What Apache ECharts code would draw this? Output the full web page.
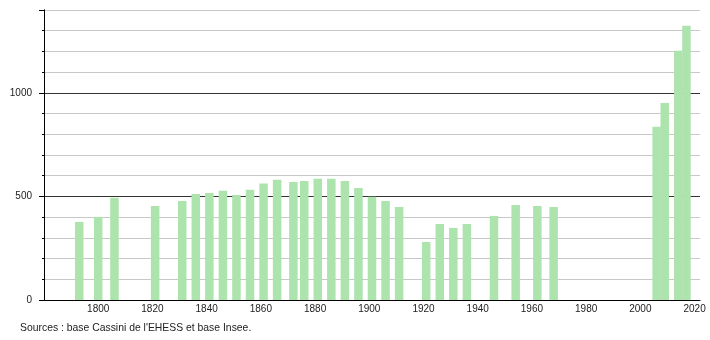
<!DOCTYPE html>
<html>
<head>
<meta charset="utf-8">
<script src="https://cdn.jsdelivr.net/npm/echarts@6/dist/echarts.min.js"></script>
<style>
html,body{margin:0;padding:0;background:#fff;}
#chart{width:710px;height:340px;}
</style>
</head>
<body>
<div id="chart"></div>
<script>
var years = [1793, 1800, 1806, 1821, 1831, 1836, 1841, 1846, 1851, 1856, 1861, 1866, 1872, 1876, 1881, 1886, 1891, 1896, 1901, 1906, 1911, 1921, 1926, 1931, 1936, 1946, 1954, 1962, 1968, 2006, 2009, 2014, 2017];
var population = [377, 401, 494, 454, 478, 512, 517, 527, 507, 532, 562, 580, 570, 575, 585, 585, 575, 541, 498, 478, 449, 280, 367, 348, 367, 406, 459, 454, 449, 836, 951, 1203, 1324];
var xTickLabels = [1800, 1820, 1840, 1860, 1880, 1900, 1920, 1940, 1960, 1980, 2000, 2020];
var yTickLabels = [0, 500, 1000];
var sourceText = "Sources : base Cassini de l'EHESS et base Insee.";

var chart = echarts.init(document.getElementById('chart'), null, {renderer: 'canvas'});
var font = 'Liberation Sans, Arial, sans-serif';
var data = years.map(function (y, i) { return [y, population[i]]; });

chart.setOption({
  animation: false,
  backgroundColor: '#fff',
  grid: {left: 44, right: 10, top: 10, bottom: 40, containLabel: false},
  xAxis: {
    type: 'value', min: 1780, max: 2022, interval: 20,
    axisLine: {show: true, lineStyle: {color: '#000', width: 1}},
    axisTick: {show: false},
    splitLine: {show: false},
    axisLabel: {
      margin: 4, color: '#222', fontFamily: font, fontSize: 10,
      showMinLabel: false, showMaxLabel: true,
      formatter: function (v) { return xTickLabels.indexOf(v) >= 0 ? String(v) : ''; }
    }
  },
  yAxis: [{
    type: 'value', min: 0, max: 1400, interval: 100,
    axisLine: {show: true, lineStyle: {color: '#000', width: 1}},
    axisTick: {show: true, length: 2, lineStyle: {color: '#000'}},
    splitLine: {show: true, lineStyle: {color: ['#333', '#c8c8c8', '#c8c8c8', '#c8c8c8', '#c8c8c8'], width: 1}},
    axisLabel: {show: false}
  }, {
    type: 'value', min: 0, max: 1400, interval: 500, position: 'left',
    axisLine: {show: true, lineStyle: {color: '#000', width: 1}},
    axisTick: {show: true, length: 5, lineStyle: {color: '#000'}},
    splitLine: {show: false},
    axisLabel: {
      margin: 12, color: '#222', fontFamily: font, fontSize: 10,
      formatter: function (v) { return yTickLabels.indexOf(v) >= 0 ? String(v) : ''; }
    }
  }],
  series: [{
    type: 'bar', yAxisIndex: 0, data: data, barWidth: 8.5,
    itemStyle: {color: '#ade3ad'}
  }],
  graphic: [{
    type: 'text', left: 20, top: 323,
    style: {text: sourceText, fill: '#222', font: '10.4px ' + font}
  }]
});
</script>
</body>
</html>
